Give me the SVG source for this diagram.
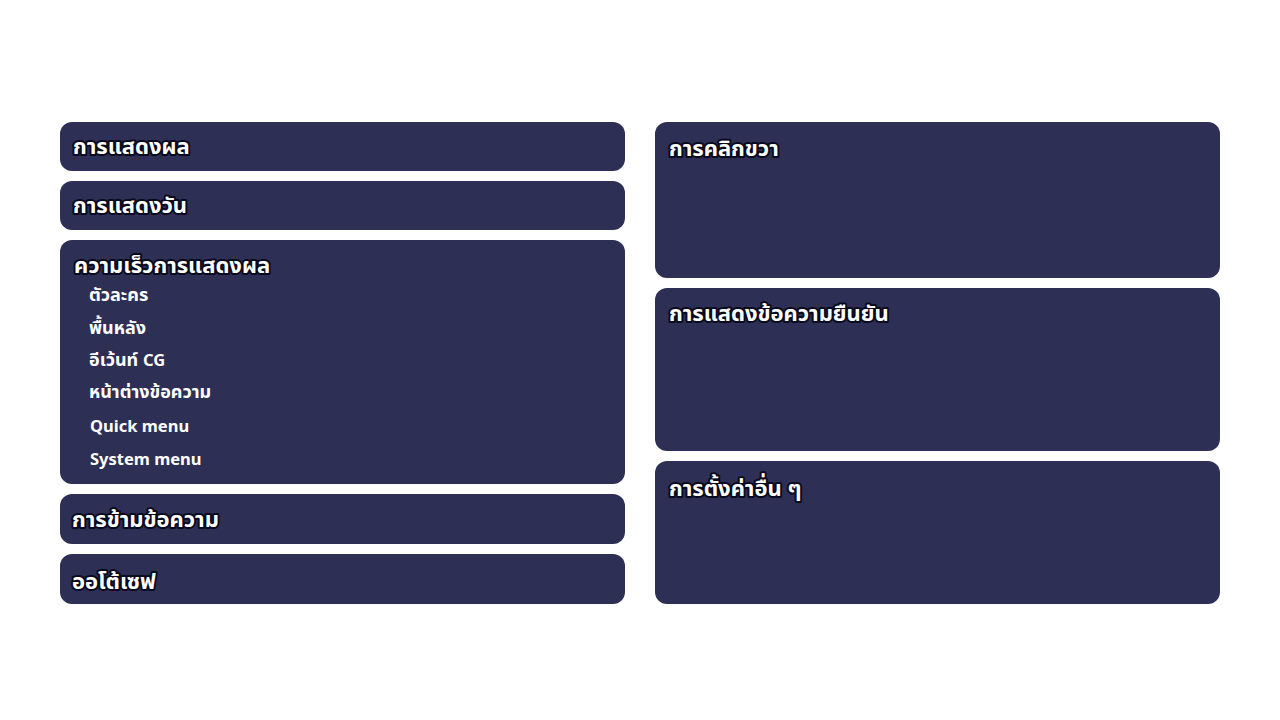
<svg xmlns="http://www.w3.org/2000/svg" width="1280" height="720" viewBox="0 0 1280 720">
<style>
.box{fill:#2d2f55}
.t{font-family:"Noto Sans","Noto Sans Thai","Liberation Sans",sans-serif;font-weight:bold;font-size:22px;fill:#ffffff;stroke:#0a0a1e;stroke-width:4;stroke-linejoin:round;paint-order:stroke fill}
.s{font-family:"Noto Sans","Noto Sans Thai","Liberation Sans",sans-serif;font-weight:bold;font-size:18px;fill:#ffffff}
.l{font-size:16.5px}
</style>
<rect width="1280" height="720" fill="#ffffff"/>
<g id="display"><rect class="box" x="60" y="122" width="565" height="49" rx="12"/><text class="t" x="73" y="154">การแสดงผล</text></g>
<g id="date"><rect class="box" x="60" y="181" width="565" height="49" rx="12"/><text class="t" x="73" y="213">การแสดงวัน</text></g>
<g id="speed"><rect class="box" x="60" y="240" width="565" height="244" rx="12"/>
<text class="t" x="74" y="273">ความเร็วการแสดงผล</text>
<text class="s" x="89" y="301">ตัวละคร</text>
<text class="s" x="89" y="334">พื้นหลัง</text>
<text class="s" x="89" y="366">อีเว้นท์ <tspan class="l">CG</tspan></text>
<text class="s" x="89" y="398">หน้าต่างข้อความ</text>
<text class="s l" x="90" y="432">Quick menu</text>
<text class="s l" x="90" y="465">System menu</text>
</g>
<g id="skip"><rect class="box" x="60" y="494" width="565" height="50" rx="12"/><text class="t" x="72" y="527">การข้ามข้อความ</text></g>
<g id="autosave"><rect class="box" x="60" y="554" width="565" height="50" rx="12"/><text class="t" x="72" y="589">ออโต้เซฟ</text></g>
<g id="rightclick"><rect class="box" x="655" y="122" width="565" height="156" rx="12"/><text class="t" x="669" y="156">การคลิกขวา</text></g>
<g id="confirm"><rect class="box" x="655" y="288" width="565" height="163" rx="12"/><text class="t" x="669" y="321">การแสดงข้อความยืนยัน</text></g>
<g id="other"><rect class="box" x="655" y="461" width="565" height="143" rx="12"/><text class="t" x="669" y="496">การตั้งค่าอื่น ๆ</text></g>
<g id="connectors"></g>
</svg>
